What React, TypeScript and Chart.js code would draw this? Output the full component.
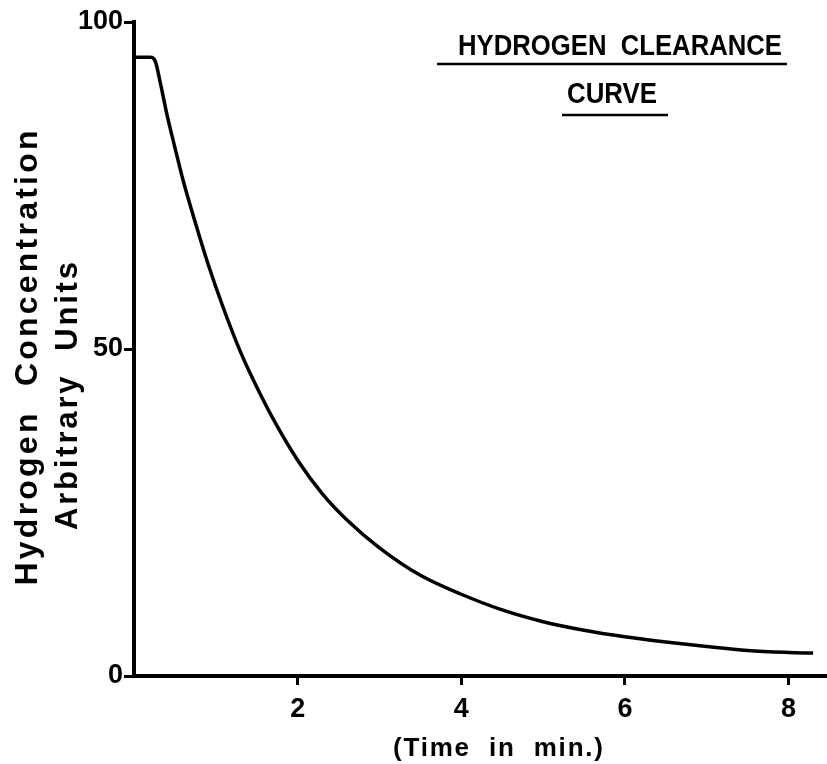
import React, { useEffect, useRef } from 'react';
import { Chart, registerables } from 'chart.js';

Chart.register(...registerables);

// ---- data ----
const timeMin = [0, 0.2, 0.26, 0.32, 0.4, 0.5, 0.6, 0.75, 0.9, 1.1, 1.3, 1.5, 1.75, 2.0, 2.3, 2.6, 3.0, 3.5, 4.0, 4.5, 5.0, 5.5, 6.0, 6.5, 7.0, 7.5, 8.0, 8.3];
const concentration = [94.6, 94.6, 94.0, 90.8, 86.0, 80.8, 75.8, 69.3, 63.2, 56.0, 49.6, 44.2, 38.2, 33.0, 27.9, 23.9, 19.6, 15.4, 12.5, 10.1, 8.3, 7.0, 6.0, 5.2, 4.5, 3.9, 3.6, 3.5];
const xTickValues = [2, 4, 6, 8];
const yTickValues = [0, 50, 100];
const chartTitleLines = ['HYDROGEN  CLEARANCE', 'CURVE'];
const yTitleLines = ['Hydrogen  Concentration', 'Arbitrary  Units'];
const xTitle = '(Time  in  min.)';

const FONT = '"Liberation Sans", Arial, sans-serif';

function drawFitted(ctx: CanvasRenderingContext2D, text: string, cx: number, cy: number, width: number, font: string, rotated: boolean) {
  ctx.save();
  ctx.translate(cx, cy);
  if (rotated) ctx.rotate(-Math.PI / 2);
  ctx.font = font;
  (ctx as any).letterSpacing = '0px';
  ctx.textAlign = 'left';
  ctx.textBaseline = 'alphabetic';
  ctx.fillStyle = '#000';
  const w0 = ctx.measureText(text).width;
  if (w0 > width) {
    ctx.scale(width / w0, 1);
    ctx.fillText(text, -w0 / 2, 0);
  } else {
    const sp = (width - w0) / Math.max(1, text.length - 1);
    (ctx as any).letterSpacing = sp + 'px';
    ctx.fillText(text, -width / 2, 0);
  }
  ctx.restore();
}

const titlesPlugin = {
  id: 'handTitles',
  afterDraw(chart: any) {
    const ctx: CanvasRenderingContext2D = chart.ctx;
    ctx.save();
    // y axis titles (rotated)
    drawFitted(ctx, yTitleLines[0], 37, 358, 455, `bold 32px ${FONT}`, true);
    drawFitted(ctx, yTitleLines[1], 77, 396, 268, `bold 31px ${FONT}`, true);
    // chart title
    drawFitted(ctx, chartTitleLines[0], 620, 55, 324, `bold 29px ${FONT}`, false);
    drawFitted(ctx, chartTitleLines[1], 612, 103, 90, `bold 29px ${FONT}`, false);
    ctx.strokeStyle = '#000';
    ctx.lineWidth = 2.5;
    ctx.beginPath();
    ctx.moveTo(437, 64);
    ctx.lineTo(787, 64);
    ctx.moveTo(562, 115);
    ctx.lineTo(668, 115);
    ctx.stroke();
    // x axis title
    drawFitted(ctx, xTitle, 498, 756, 210, `bold 26px ${FONT}`, false);
    ctx.restore();
  },
};

export default function App() {
  const ref = useRef<HTMLCanvasElement | null>(null);
  useEffect(() => {
    if (!ref.current) return;
    const chart = new Chart(ref.current, {
      type: 'line',
      data: {
        datasets: [
          {
            data: timeMin.map((t, i) => ({ x: t, y: concentration[i] })),
            borderColor: '#000',
            borderWidth: 3.5,
            pointRadius: 0,
            fill: false,
            cubicInterpolationMode: 'monotone',
          },
        ],
      },
      options: {
        responsive: false,
        animation: false,
        layout: { padding: { top: 22, left: 0, right: 0, bottom: 0 } },
        plugins: { legend: { display: false }, tooltip: { enabled: false }, title: { display: false } },
        scales: {
          x: {
            type: 'linear',
            min: 0,
            max: 8.47,
            afterBuildTicks: (s: any) => {
              s.ticks = xTickValues.map((v) => ({ value: v }));
            },
            afterFit: (s: any) => {
              s.height = 88;
            },
            grid: { display: true, drawOnChartArea: false, drawTicks: true, tickLength: 9, tickColor: '#000', lineWidth: 3 },
            border: { display: true, color: '#000', width: 4 },
            ticks: {
              color: '#000',
              padding: 8,
              maxRotation: 0,
              autoSkip: false,
              font: { family: FONT, size: 27, weight: 'bold' },
            },
          },
          y: {
            type: 'linear',
            min: 0,
            max: 100,
            afterBuildTicks: (s: any) => {
              s.ticks = yTickValues.map((v) => ({ value: v }));
            },
            afterFit: (s: any) => {
              s.width = 134;
            },
            grid: { display: true, drawOnChartArea: false, drawTicks: true, tickLength: 10, tickColor: '#000', lineWidth: 3 },
            border: { display: true, color: '#000', width: 4 },
            ticks: {
              color: '#000',
              padding: 1,
              autoSkip: false,
              font: { family: FONT, size: 27, weight: 'bold' },
            },
          },
        },
      },
      plugins: [titlesPlugin],
    } as any);
    return () => chart.destroy();
  }, []);
  return (
    <div style={{ position: 'absolute', left: 0, top: 0, width: 827, height: 764, background: '#fff' }}>
      <canvas ref={ref} width={827} height={764} />
    </div>
  );
}
